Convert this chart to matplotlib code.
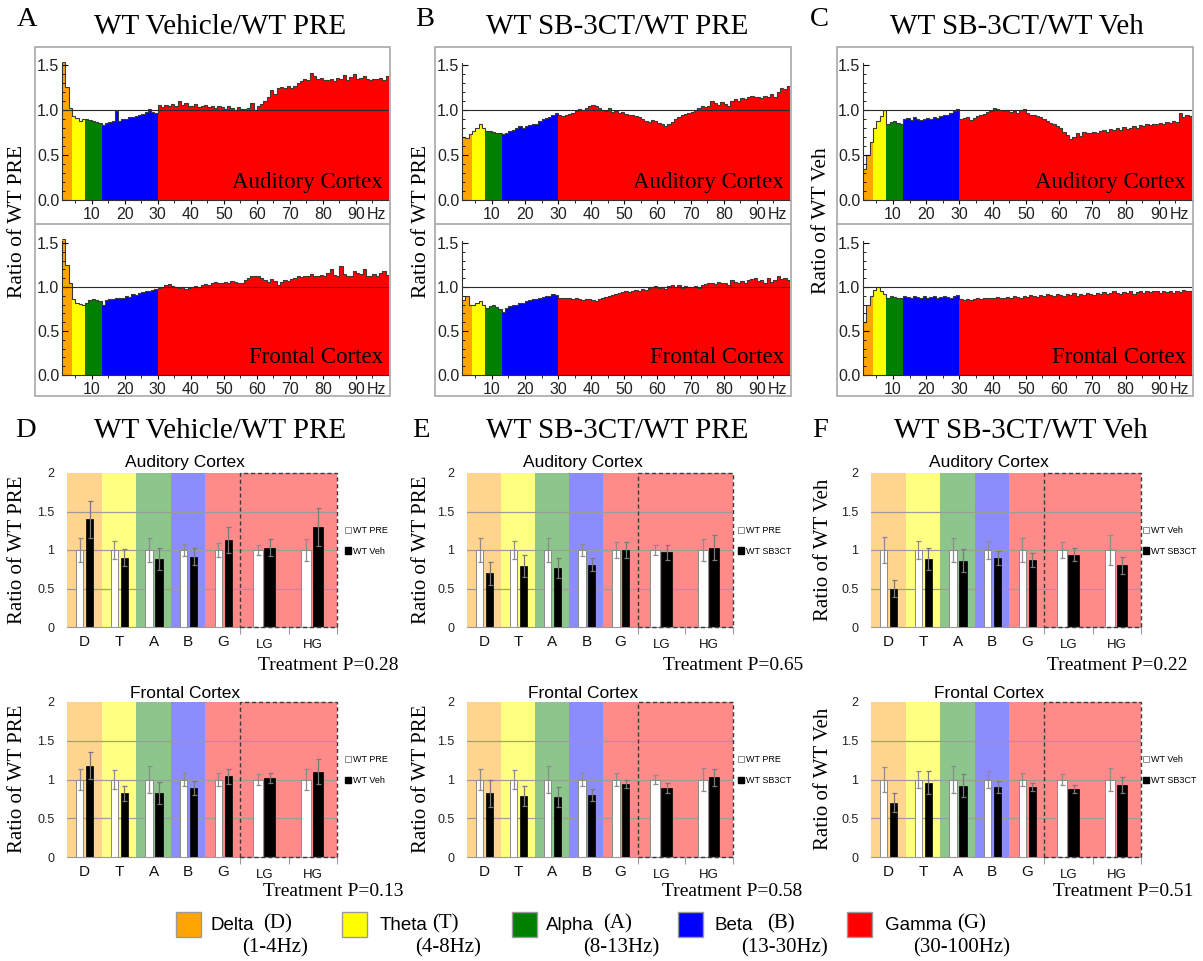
import numpy as np
import matplotlib
matplotlib.use('Agg')
import matplotlib.pyplot as plt
from matplotlib.patches import Rectangle, Patch
from matplotlib.lines import Line2D

W, H = 1203, 961
SERIF = 'Liberation Serif'
SANS = 'Liberation Sans'

# ---- spectra: ratio per 1 Hz bin from 1 to 100 Hz (99 bins) ----
freq_edges = np.arange(1, 101)
band_edges = [1, 4, 8, 13, 30, 100]
band_colors = ['#FFA500', '#FFFF00', '#008000', '#0000FF', '#FF0000']
band_light = ['#FFD48E', '#FFFF82', '#8CC68C', '#8C8CFF', '#FF8A8A']

a_aud = [1.53, 1.26, 1.02,
         0.93, 0.91, 0.88, 0.90,
         0.90, 0.89, 0.88, 0.87, 0.86,
         0.83, 0.86, 0.87, 0.88, 0.99, 0.88, 0.90, 0.90, 0.92, 0.92, 0.93, 0.94, 0.96, 0.98, 1.01, 0.98, 0.97,
         1.06, 1.03, 1.06, 1.04, 1.07, 1.05, 1.10, 1.06, 1.08, 1.04, 1.05, 1.07, 1.03, 1.04, 1.06,
         1.03, 1.05, 1.02, 1.04, 1.03, 1.01, 1.04, 1.02, 1.00, 1.03, 1.01, 1.01, 1.02, 1.08, 1.00,
         1.04, 1.07, 1.10, 1.15, 1.22, 1.18, 1.25, 1.26, 1.24, 1.27,
         1.25, 1.27, 1.30, 1.32, 1.35, 1.33, 1.41, 1.38, 1.34, 1.36,
         1.33, 1.33, 1.35, 1.32, 1.36, 1.35, 1.39, 1.33, 1.37, 1.40,
         1.35, 1.36, 1.38, 1.34, 1.33, 1.35, 1.34, 1.36, 1.33, 1.38]
a_fro = [1.55, 1.25, 1.05,
         0.86, 0.82, 0.81, 0.80,
         0.82, 0.85, 0.86, 0.85, 0.84,
         0.80, 0.85, 0.86, 0.86, 0.87, 0.87, 0.88, 0.90, 0.89, 0.92, 0.91, 0.93, 0.94, 0.96, 0.95, 0.97, 0.98,
         0.99, 1.00, 1.02, 1.03, 1.01, 1.00, 0.99, 1.00, 0.98, 0.99, 1.00, 1.01, 1.00, 1.02, 1.03,
         1.02, 1.05, 1.06, 1.04, 1.05, 1.06, 1.05, 1.07, 1.06, 1.04, 1.05, 1.08, 1.10, 1.12, 1.13,
         1.12, 1.10, 1.08, 1.06, 1.09, 1.07, 1.02, 1.06, 1.08, 1.07,
         1.09, 1.10, 1.12, 1.11, 1.13, 1.12, 1.15, 1.13, 1.12, 1.14,
         1.13, 1.16, 1.20, 1.14, 1.12, 1.24, 1.15, 1.12, 1.13, 1.18,
         1.16, 1.15, 1.20, 1.13, 1.12, 1.15, 1.13, 1.16, 1.18, 1.14]
b_aud = [0.70, 0.69, 0.73,
         0.77, 0.80, 0.85, 0.80,
         0.77, 0.77, 0.76, 0.75, 0.74,
         0.73, 0.75, 0.77, 0.78, 0.80, 0.82, 0.80, 0.82, 0.83, 0.84, 0.85, 0.88, 0.90, 0.91, 0.92, 0.95, 0.97,
         0.94, 0.93, 0.95, 0.96, 0.97, 0.99, 1.01, 1.00, 1.02, 1.04, 1.06, 1.04, 1.02, 1.00, 0.99,
         1.02, 0.98, 0.99, 0.97, 0.98, 0.96, 0.95, 0.94, 0.93, 0.92, 0.90, 0.88, 0.87, 0.89, 0.88,
         0.86, 0.84, 0.82, 0.85, 0.87, 0.90, 0.92, 0.94, 0.96, 0.97,
         0.98, 1.00, 1.02, 1.04, 1.03, 1.05, 1.10, 1.08, 1.06, 1.09,
         1.07, 1.05, 1.10, 1.12, 1.10, 1.13, 1.12, 1.15, 1.16, 1.14,
         1.15, 1.13, 1.16, 1.14, 1.18, 1.15, 1.20, 1.24, 1.23, 1.27]
b_fro = [0.85, 0.90, 0.80,
         0.79, 0.82, 0.84, 0.80,
         0.76, 0.78, 0.79, 0.77, 0.75,
         0.72, 0.76, 0.78, 0.80, 0.80, 0.82, 0.82, 0.84, 0.85, 0.86, 0.86, 0.88, 0.89, 0.90, 0.90, 0.92, 0.91,
         0.88, 0.87, 0.88, 0.87, 0.86, 0.87, 0.86, 0.85, 0.86, 0.86, 0.85, 0.84, 0.86, 0.88, 0.89,
         0.90, 0.91, 0.92, 0.93, 0.94, 0.95, 0.94, 0.96, 0.97, 0.96, 0.98, 0.97, 0.99, 1.00, 1.01,
         0.99, 1.00, 0.98, 1.01, 1.02, 1.00, 1.02, 0.99, 1.01, 1.00,
         1.00, 1.01, 0.99, 1.02, 1.03, 1.04, 1.05, 1.03, 1.06, 1.05,
         1.04, 1.02, 1.08, 1.06, 1.05, 1.07, 1.04, 1.08, 1.09, 1.10,
         1.07, 1.08, 1.05, 1.10, 1.06, 1.08, 1.12, 1.09, 1.10, 1.08]
c_aud = [0.35, 0.50, 0.65,
         0.80, 0.88, 0.93, 1.00,
         0.85, 0.87, 0.88, 0.86, 0.85,
         0.90, 0.91, 0.89, 0.92, 0.90, 0.89, 0.90, 0.91, 0.90, 0.92, 0.91, 0.93, 0.94, 0.95, 0.97, 0.99, 1.01,
         0.90, 0.91, 0.92, 0.89, 0.91, 0.93, 0.95, 0.96, 0.98, 0.99, 1.02, 1.01, 1.00, 0.99, 1.00,
         0.98, 0.99, 0.97, 1.00, 1.01, 0.97, 0.95, 0.94, 0.93, 0.92, 0.90, 0.88, 0.86, 0.84, 0.82,
         0.80, 0.76, 0.72, 0.68, 0.70, 0.74, 0.71, 0.76, 0.75, 0.74,
         0.76, 0.75, 0.77, 0.78, 0.76, 0.79, 0.78, 0.80, 0.78, 0.81,
         0.79, 0.80, 0.82, 0.80, 0.83, 0.82, 0.84, 0.83, 0.85, 0.84,
         0.86, 0.85, 0.87, 0.86, 0.88, 0.87, 0.97, 0.92, 0.95, 0.93]
c_fro = [0.60, 0.80, 0.90,
         0.97, 1.00, 0.95, 0.92,
         0.88, 0.90, 0.89, 0.88, 0.87,
         0.90, 0.89, 0.88, 0.90, 0.89, 0.87, 0.90, 0.88, 0.89, 0.90, 0.88, 0.89, 0.90, 0.89, 0.88, 0.90, 0.91,
         0.86, 0.85, 0.86, 0.85, 0.86, 0.87, 0.86, 0.88, 0.87, 0.88, 0.87, 0.89, 0.88, 0.87, 0.89,
         0.88, 0.90, 0.89, 0.88, 0.90, 0.89, 0.91, 0.90, 0.89, 0.91, 0.90, 0.92, 0.91, 0.90, 0.92,
         0.91, 0.90, 0.92, 0.91, 0.93, 0.90, 0.92, 0.91, 0.93, 0.92,
         0.91, 0.93, 0.92, 0.94, 0.92, 0.93, 0.95, 0.93, 0.92, 0.94,
         0.93, 0.95, 0.92, 0.94, 0.96, 0.93, 0.95, 0.94, 0.96, 0.95,
         0.93, 0.96, 0.94, 0.95, 0.93, 0.96, 0.94, 0.97, 0.95, 0.96]

# ---- band power bars (control normalised to 1) ----
bar_cats = ['D', 'T', 'A', 'B', 'G', 'LG', 'HG']
ctrl_mean = [1, 1, 1, 1, 1, 1, 1]

d_aud_ctrl_err = [0.15, 0.12, 0.16, 0.08, 0.09, 0.07, 0.14]
d_aud_trt = [1.40, 0.90, 0.88, 0.91, 1.13, 1.03, 1.30]
d_aud_trt_err = [0.24, 0.11, 0.14, 0.11, 0.17, 0.11, 0.25]
d_fro_ctrl_err = [0.13, 0.12, 0.17, 0.08, 0.08, 0.07, 0.14]
d_fro_trt = [1.18, 0.82, 0.83, 0.89, 1.04, 1.02, 1.10]
d_fro_trt_err = [0.17, 0.10, 0.14, 0.09, 0.10, 0.07, 0.16]

e_aud_ctrl_err = [0.15, 0.12, 0.16, 0.08, 0.10, 0.07, 0.14]
e_aud_trt = [0.70, 0.79, 0.76, 0.81, 1.00, 0.97, 1.03]
e_aud_trt_err = [0.15, 0.14, 0.13, 0.08, 0.10, 0.10, 0.16]
e_fro_ctrl_err = [0.13, 0.12, 0.17, 0.08, 0.08, 0.06, 0.15]
e_fro_trt = [0.82, 0.79, 0.77, 0.80, 0.94, 0.89, 1.03]
e_fro_trt_err = [0.17, 0.13, 0.13, 0.08, 0.05, 0.06, 0.11]

f_aud_ctrl_err = [0.17, 0.12, 0.16, 0.12, 0.15, 0.10, 0.19]
f_aud_trt = [0.50, 0.88, 0.86, 0.90, 0.87, 0.94, 0.80]
f_aud_trt_err = [0.11, 0.14, 0.15, 0.09, 0.09, 0.08, 0.11]
f_fro_ctrl_err = [0.16, 0.11, 0.17, 0.11, 0.09, 0.07, 0.15]
f_fro_trt = [0.70, 0.96, 0.92, 0.90, 0.90, 0.88, 0.93]
f_fro_trt_err = [0.12, 0.15, 0.15, 0.08, 0.05, 0.05, 0.10]

p_values = ['0.28', '0.13', '0.65', '0.58', '0.22', '0.51']

legend_names = ['Delta', 'Theta', 'Alpha', 'Beta', 'Gamma']
legend_abbr = ['(D)', '(T)', '(A)', '(B)', '(G)']
legend_ranges = ['(1-4Hz)', '(4-8Hz)', '(8-13Hz)', '(13-30Hz)', '(30-100Hz)']

fig = plt.figure(figsize=(W / 100, H / 100), dpi=100)


def add_ax(x0, y0, x1, y1):
    return fig.add_axes([x0 / W, 1 - y1 / H, (x1 - x0) / W, (y1 - y0) / H])


def ftext(x, y, s, **kw):
    fig.text(x / W, 1 - y / H, s, **kw)


def draw_spectrum(ax, vals, ymax, label):
    vals = np.asarray(vals)
    for i in range(5):
        lo, hi = band_edges[i], band_edges[i + 1]
        ax.stairs(vals[lo - 1:hi - 1], freq_edges[lo - 1:hi], fill=True,
                  facecolor=band_colors[i], edgecolor='none', lw=0)
    ax.stairs(vals, freq_edges, baseline=None, color='#3a3a3a', lw=0.8)
    ax.axhline(1.0, color='#2a2a2a', lw=0.8)
    ax.set_xlim(1, 100)
    ax.set_ylim(0, ymax)
    for s in ['top', 'right']:
        ax.spines[s].set_visible(False)
    ax.spines['left'].set_bounds(0, 1.52)
    ax.spines['left'].set_color('#303030')
    ax.spines['bottom'].set_color('#303030')
    ax.set_yticks([0, 0.5, 1.0, 1.5])
    ax.set_yticklabels(['0.0', '0.5', '1.0', '1.5'])
    ax.set_yticks(np.arange(0, 1.51, 0.1), minor=True)
    ax.set_xticks(range(10, 100, 10))
    ax.set_xticks(range(5, 100, 5), minor=True)
    ax.tick_params(axis='y', which='major', direction='in', length=4, pad=2,
                   labelsize=11.5, labelcolor='#222222')
    ax.tick_params(axis='y', which='minor', direction='in', length=2)
    ax.tick_params(axis='x', which='major', direction='out', length=3, pad=2,
                   labelsize=11.5, labelcolor='#222222')
    ax.tick_params(axis='x', which='minor', direction='out', length=2)
    for t in ax.get_xticklabels() + ax.get_yticklabels():
        t.set_family(SANS)
    ax.annotate('Hz', xy=(93.2, 0), xycoords=('data', 'axes fraction'),
                xytext=(0, -5), textcoords='offset points', ha='left', va='top',
                family=SANS, size=11.5, color='#222222')
    ax.text(0.982, 0.045, label, transform=ax.transAxes, ha='right', va='bottom',
            family=SERIF, size=16.5)


def draw_bars(ax, ctrl_err, trt, trt_err, ctrl_name, trt_name, leg_x):
    bounds = [0, 1, 2, 3, 4, 5, 6.4, 7.8]
    for i in range(4):
        ax.axvspan(bounds[i], bounds[i + 1], color=band_light[i], lw=0, zorder=0)
    ax.axvspan(4, 7.8, color=band_light[4], lw=0, zorder=0)
    for yv in (0.5, 1.0, 1.5):
        ax.axhline(yv, color='#9c9c9c', lw=0.9, zorder=1)
    centers = np.array([0.5, 1.5, 2.5, 3.5, 4.5, 5.7, 7.1])
    widths = [0.21] * 5 + [0.30] * 2
    xc = centers + np.array([-0.13] * 5 + [-0.19] * 2)
    xt = centers + np.array([0.16] * 5 + [0.15] * 2)
    ax.bar(xc, ctrl_mean, width=widths, color='white', edgecolor='#8a8a8a', lw=0.7, zorder=2)
    ax.bar(xt, trt, width=widths, color='black', edgecolor='black', lw=0.5, zorder=2)
    ax.errorbar(xc, ctrl_mean, yerr=ctrl_err, fmt='none', ecolor='#8c8c8c',
                elinewidth=0.9, capsize=1.8, capthick=0.9, zorder=3)
    ax.errorbar(xt, trt, yerr=trt_err, fmt='none', ecolor='#7a7a7a',
                elinewidth=0.9, capsize=1.8, capthick=0.9, zorder=3)
    ax.add_patch(Rectangle((5, 0), 2.8, 2, fill=False, ls=(0, (3, 2)),
                           ec='#3a3a3a', lw=1.0, zorder=4, clip_on=False))
    ax.set_xlim(0, 7.8)
    ax.set_ylim(0, 2)
    for s in ['top', 'right', 'left']:
        ax.spines[s].set_visible(False)
    ax.spines['bottom'].set_color('#9a9a9a')
    ax.set_yticks([0, 0.5, 1, 1.5, 2])
    ax.set_yticklabels(['0', '0.5', '1', '1.5', '2'], family=SANS, size=9)
    ax.tick_params(axis='y', length=0, pad=9, labelcolor='#222222')
    ax.set_xticks(centers)
    ax.set_xticklabels(bar_cats, family=SANS, size=11)
    ax.tick_params(axis='x', which='major', length=0, pad=6, labelcolor='#111111')
    for k in (5, 6):
        ax.xaxis.get_major_ticks()[k].set_pad(9)
        ax.get_xticklabels()[k].set_fontsize(9.5)
    ax.set_xticks([5, 6.4, 7.8], minor=True)
    ax.tick_params(axis='x', which='minor', length=5, color='#9a9a9a', width=0.8)
    handles = [Patch(facecolor='white', edgecolor='#7a7a7a', lw=0.6),
               Patch(facecolor='black', edgecolor='black')]
    ax.legend(handles, [ctrl_name, trt_name], loc='center left',
              bbox_to_anchor=(leg_x, 0.56), frameon=False,
              prop={'family': SANS, 'size': 6.5}, handlelength=0.7, handleheight=0.7,
              handletextpad=0.2, labelspacing=1.3, borderaxespad=0, borderpad=0)


# ---- top row: spectra A, B, C ----
spec_panels = [
    (35, 62, 389, 'A', 'WT Vehicle/WT PRE', 220, 'Ratio of WT PRE', 18, a_aud, a_fro),
    (435, 462, 790, 'B', 'WT SB-3CT/WT PRE', 617, 'Ratio of WT PRE', 422, b_aud, b_fro),
    (837, 863, 1192, 'C', 'WT SB-3CT/WT Veh', 1017, 'Ratio of WT Veh', 822, c_aud, c_fro),
]
letter_x = [17, 415, 810]
for (fx0, ax0, ax1, letter, title, tcx, ylab, ylx, aud, fro), lx in zip(spec_panels, letter_x):
    fig.patches.append(Rectangle((fx0 / W, 1 - 396 / H), (ax1 + 1 - fx0) / W, (396 - 47) / H,
                                 transform=fig.transFigure, fill=False, ec='#a8a8a8', lw=1.2))
    fig.add_artist(Line2D([fx0 / W, (ax1 + 1) / W], [1 - 224 / H, 1 - 224 / H],
                          transform=fig.transFigure, color='#a8a8a8', lw=1.2))
    ax_top = add_ax(ax0, 49, ax1, 200)
    draw_spectrum(ax_top, aud, 151 / 90, 'Auditory Cortex')
    ax_bot = add_ax(ax0, 226, ax1, 375)
    draw_spectrum(ax_bot, fro, 149 / 88, 'Frontal Cortex')
    ftext(tcx, 27, title, family=SERIF, size=21, ha='center', va='center')
    ftext(lx, 20, letter, family=SERIF, size=20.5, ha='left', va='center')
    ftext(ylx, 221, ylab, family=SERIF, size=15.5, ha='center', va='center', rotation=90)

# ---- bottom rows: band bar charts D, E, F ----
bar_panels = [
    (67, 337, 'D', 15, 'WT Vehicle/WT PRE', 220, 'Ratio of WT PRE', 18, 185,
     'WT PRE', 'WT Veh', d_aud_ctrl_err, d_aud_trt, d_aud_trt_err,
     d_fro_ctrl_err, d_fro_trt, d_fro_trt_err, 398, 403, p_values[0], p_values[1], 1.028),
    (467, 733, 'E', 412, 'WT SB-3CT/WT PRE', 617, 'Ratio of WT PRE', 422, 583,
     'WT PRE', 'WT SB3CT', e_aud_ctrl_err, e_aud_trt, e_aud_trt_err,
     e_fro_ctrl_err, e_fro_trt, e_fro_trt_err, 803, 802, p_values[2], p_values[3], 1.017),
    (871, 1141, 'F', 812, 'WT SB-3CT/WT Veh', 1021, 'Ratio of WT Veh', 823, 989,
     'WT Veh', 'WT SB3CT', f_aud_ctrl_err, f_aud_trt, f_aud_trt_err,
     f_fro_ctrl_err, f_fro_trt, f_fro_trt_err, 1188, 1193, p_values[4], p_values[5], 1.006),
]
for (bx0, bx1, letter, lx, title, tcx, ylab, ylx, scx, cname, tname,
     ace, at, ate, fce, ft, fte, p1x, p2x, p1, p2, leg_x) in bar_panels:
    ax_a = add_ax(bx0, 473, bx1, 627)
    draw_bars(ax_a, ace, at, ate, cname, tname, leg_x)
    ax_f = add_ax(bx0, 702, bx1, 857)
    draw_bars(ax_f, fce, ft, fte, cname, tname, leg_x)
    ftext(tcx, 431, title, family=SERIF, size=21, ha='center', va='center')
    ftext(lx, 430, letter, family=SERIF, size=20.5, ha='left', va='center')
    ftext(scx, 463, 'Auditory Cortex', family=SANS, size=12.5, ha='center', va='center')
    ftext(scx, 693, 'Frontal Cortex', family=SANS, size=12.5, ha='center', va='center')
    ftext(ylx, 550, ylab, family=SERIF, size=15, ha='center', va='center', rotation=90)
    ftext(ylx, 779, ylab, family=SERIF, size=15, ha='center', va='center', rotation=90)
    ftext(p1x, 666, 'Treatment P=' + p1, family=SERIF, size=14, ha='right', va='center')
    ftext(p2x, 892, 'Treatment P=' + p2, family=SERIF, size=14, ha='right', va='center')

# ---- colour key ----
key_sq_x = [176, 342, 512, 678, 847]
key_name_x = [210, 380, 546, 715, 885]
key_abbr_x = [263, 432, 603, 767, 957]
key_rng_x = [242, 415, 583, 741, 913]
for i in range(5):
    fig.patches.append(Rectangle((key_sq_x[i] / W, 1 - 937 / H), 25 / W, 25 / H,
                                 transform=fig.transFigure, facecolor=band_colors[i],
                                 edgecolor='#9a9a9a', lw=1))
    ftext(key_name_x[i], 925, legend_names[i], family=SANS, size=13.5, ha='left', va='center')
    ftext(key_abbr_x[i], 924, legend_abbr[i], family=SERIF, size=15, ha='left', va='center')
    ftext(key_rng_x[i], 948, legend_ranges[i], family=SERIF, size=15, ha='left', va='center')

fig.savefig('out.png', dpi=100)
